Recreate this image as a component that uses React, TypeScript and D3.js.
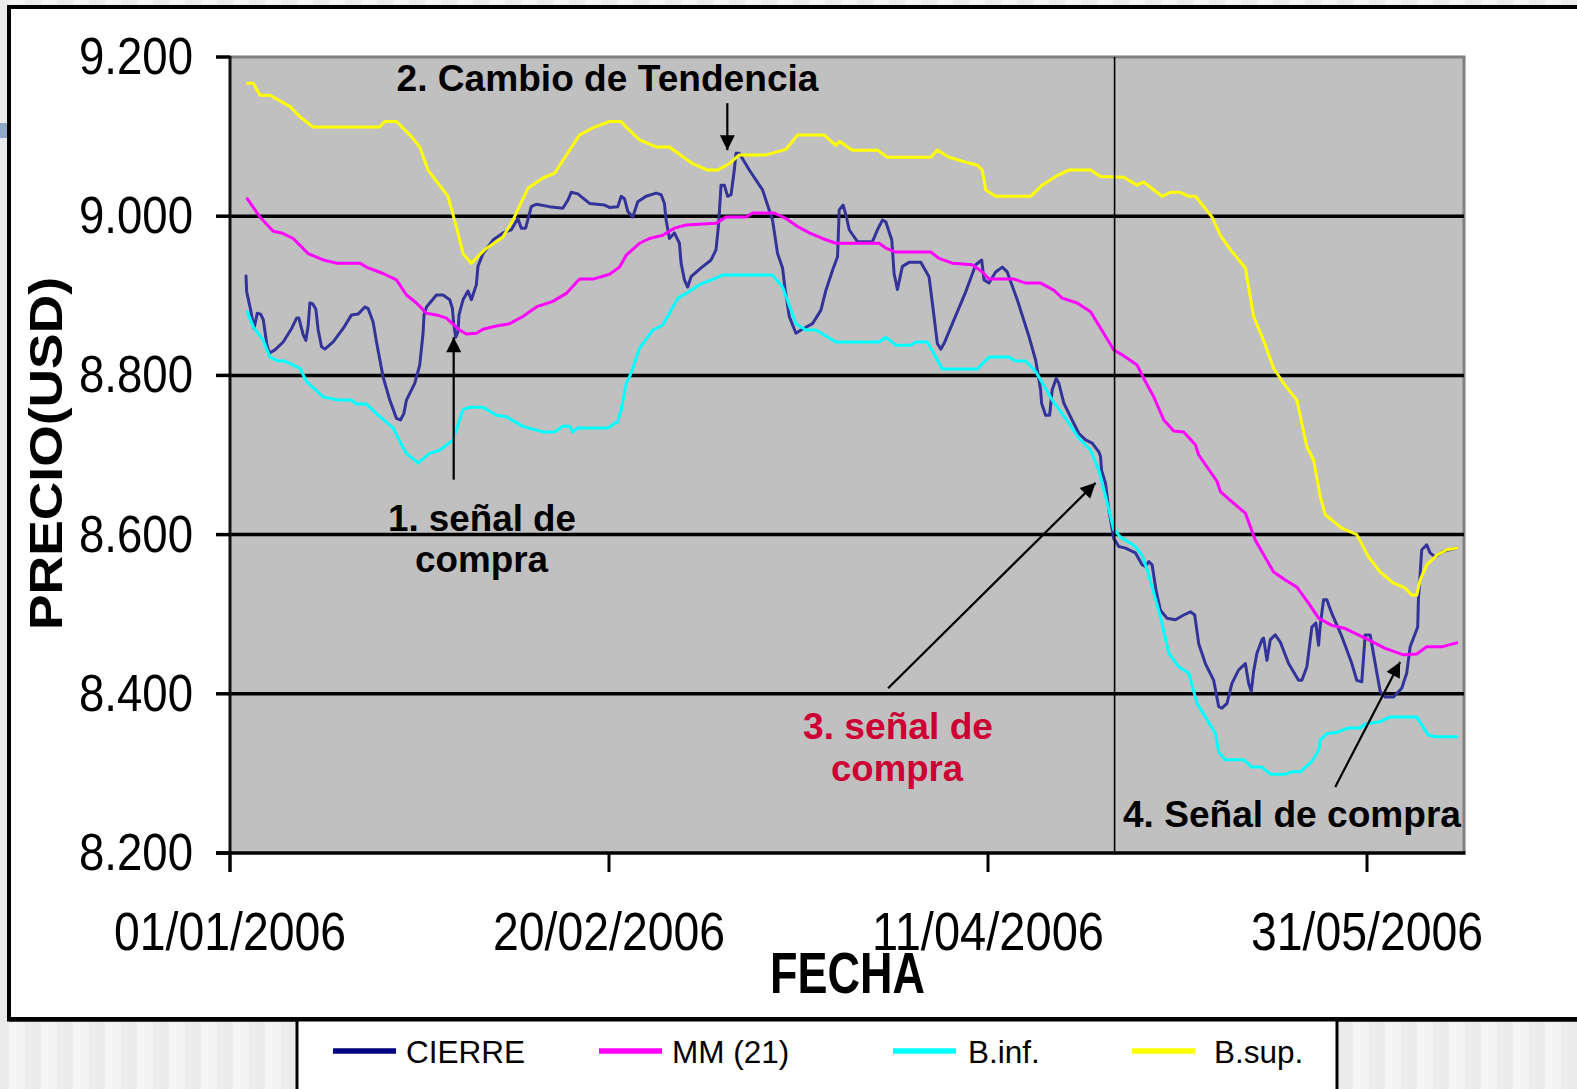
import React from "react";
import * as d3 from "d3";

// ---------- DATA (x = days after 01/01/2006, y = price USD) ----------
const X_TICKS = ["2006-01-01", "2006-02-20", "2006-04-11", "2006-05-31"];
const Y_TICKS = [8.2, 8.4, 8.6, 8.8, 9.0, 9.2];
const GRID_VALUES = [8.4, 8.6, 8.8, 9.0];
const SERIES_NAMES = ["CIERRE", "MM (21)", "B.inf.", "B.sup."];

const CIERRE: [number, number][] = [
  [2.11, 8.925], [2.2, 8.905], [2.73, 8.882], [3.16, 8.859], [3.6, 8.878], [4.04, 8.877], [4.39, 8.87], [4.84, 8.84],
  [5.18, 8.828], [5.93, 8.832], [7.02, 8.842], [8.13, 8.859], [8.79, 8.872], [9.09, 8.872], [9.66, 8.851], [10.01, 8.844],
  [10.32, 8.863], [10.54, 8.891], [10.9, 8.89], [11.33, 8.883], [11.63, 8.857], [12.08, 8.836], [12.52, 8.833], [13.61, 8.842],
  [14.93, 8.859], [16.03, 8.876], [16.9, 8.877], [17.79, 8.886], [18.22, 8.884], [18.88, 8.867], [19.33, 8.842], [20.2, 8.798],
  [21.08, 8.769], [21.96, 8.746], [22.49, 8.744], [22.93, 8.752], [23.28, 8.769], [24.37, 8.79], [25.03, 8.813], [25.47, 8.853],
  [25.6, 8.876], [25.92, 8.886], [27.23, 8.901], [28.11, 8.901], [28.99, 8.895], [29.34, 8.884], [29.51, 8.865], [29.78, 8.848],
  [30.08, 8.855], [30.21, 8.876], [30.74, 8.895], [31.4, 8.906], [31.84, 8.895], [32.5, 8.914], [32.71, 8.937], [33.37, 8.953],
  [34.69, 8.97], [36.01, 8.979], [37.11, 8.983], [37.98, 8.997], [38.43, 8.985], [39.0, 8.985], [39.75, 9.012], [40.41, 9.015],
  [42.16, 9.012], [43.91, 9.01], [44.57, 9.02], [45.02, 9.03], [45.89, 9.028], [47.43, 9.016], [49.41, 9.014], [50.07, 9.011],
  [51.16, 9.012], [51.61, 9.025], [52.04, 9.022], [52.48, 9.006], [53.14, 8.999], [53.79, 9.018], [54.9, 9.025], [56.22, 9.029],
  [56.88, 9.027], [57.31, 9.016], [57.54, 8.995], [57.97, 8.972], [58.63, 8.979], [59.29, 8.966], [59.51, 8.941], [59.95, 8.92],
  [60.38, 8.911], [60.83, 8.924], [62.15, 8.935], [63.47, 8.945], [64.12, 8.958], [64.47, 8.991], [64.78, 9.039], [65.22, 9.039],
  [65.65, 9.025], [66.1, 9.027], [66.53, 9.058], [66.76, 9.079], [67.19, 9.079], [68.51, 9.058], [70.26, 9.033], [71.58, 8.995],
  [72.24, 8.953], [72.9, 8.935], [73.25, 8.907], [73.78, 8.874], [74.66, 8.853], [75.32, 8.857], [76.85, 8.865], [77.96, 8.882],
  [78.62, 8.907], [79.49, 8.932], [80.15, 8.949], [80.37, 9.008], [80.89, 9.014], [81.33, 8.999], [81.69, 8.983], [82.78, 8.968],
  [84.76, 8.968], [85.42, 8.983], [86.07, 8.995], [86.52, 8.993], [86.86, 8.983], [87.31, 8.97], [87.61, 8.928], [88.05, 8.908],
  [88.71, 8.937], [89.59, 8.942], [91.13, 8.942], [92.22, 8.924], [92.66, 8.891], [93.32, 8.84], [93.77, 8.833], [94.2, 8.84],
  [95.3, 8.865], [97.06, 8.905], [98.38, 8.939], [99.17, 8.945], [99.47, 8.92], [100.13, 8.916], [101.01, 8.93], [101.88, 8.936],
  [102.54, 8.93], [103.86, 8.895], [105.4, 8.849], [106.29, 8.819], [106.94, 8.782], [107.07, 8.765], [107.6, 8.75], [108.13, 8.75],
  [108.47, 8.782], [109.0, 8.796], [109.35, 8.79], [110.01, 8.765], [110.89, 8.748], [111.99, 8.727], [112.87, 8.719], [113.74, 8.715],
  [114.62, 8.704], [114.85, 8.698], [114.98, 8.681], [115.51, 8.664], [115.94, 8.631], [116.6, 8.595], [117.26, 8.585], [118.14, 8.583],
  [119.46, 8.577], [120.33, 8.562], [120.77, 8.56], [121.21, 8.566], [121.65, 8.562], [122.17, 8.53], [122.75, 8.505], [123.62, 8.495],
  [124.73, 8.493], [125.82, 8.499], [126.7, 8.503], [127.27, 8.499], [127.8, 8.463], [128.68, 8.438], [129.77, 8.417], [130.43, 8.384],
  [130.87, 8.382], [131.53, 8.388], [132.18, 8.413], [133.07, 8.43], [133.95, 8.438], [134.39, 8.413], [134.74, 8.403], [135.04, 8.428],
  [135.48, 8.451], [136.14, 8.468], [136.36, 8.47], [136.8, 8.442], [137.24, 8.468], [137.9, 8.474], [138.56, 8.465], [139.66, 8.438],
  [140.97, 8.417], [141.41, 8.417], [142.07, 8.434], [142.73, 8.484], [143.25, 8.489], [143.61, 8.461], [143.83, 8.486], [144.27, 8.518],
  [144.7, 8.518], [145.36, 8.501], [146.68, 8.472], [148.0, 8.438], [148.65, 8.417], [149.31, 8.415], [149.76, 8.474], [150.42, 8.474],
  [151.08, 8.438], [151.74, 8.403], [152.39, 8.396], [153.49, 8.396], [154.58, 8.407], [155.24, 8.426], [155.69, 8.459], [156.69, 8.484],
  [156.78, 8.518], [157.22, 8.581], [157.88, 8.587], [158.32, 8.577], [158.98, 8.572], [160.08, 8.579], [161.83, 8.583],
];

const MM21: [number, number][] = [
  [2.28, 9.022], [3.95, 8.999], [5.7, 8.981], [6.81, 8.979], [8.34, 8.972], [10.32, 8.953], [12.29, 8.945], [14.06, 8.941],
  [17.13, 8.941], [18.22, 8.935], [20.2, 8.928], [21.96, 8.92], [23.28, 8.901], [24.6, 8.891], [25.92, 8.878], [27.23, 8.876],
  [28.55, 8.872], [30.3, 8.857], [31.19, 8.852], [32.5, 8.853], [33.37, 8.858], [35.14, 8.862], [36.89, 8.865], [38.64, 8.874],
  [40.41, 8.886], [42.6, 8.893], [44.36, 8.903], [46.11, 8.921], [47.87, 8.921], [50.07, 8.927], [51.38, 8.936], [52.27, 8.951],
  [54.02, 8.966], [55.34, 8.972], [57.09, 8.976], [58.63, 8.985], [60.17, 8.989], [64.12, 8.991], [65.44, 8.999], [68.08, 8.999],
  [68.94, 9.004], [71.8, 9.004], [73.35, 8.997], [74.87, 8.987], [76.42, 8.979], [78.17, 8.972], [79.93, 8.966], [85.64, 8.966],
  [86.52, 8.96], [87.84, 8.955], [92.45, 8.955], [93.54, 8.947], [95.3, 8.941], [97.93, 8.939], [99.25, 8.93], [100.13, 8.921],
  [103.43, 8.921], [104.97, 8.916], [106.94, 8.916], [108.7, 8.907], [109.79, 8.897], [111.77, 8.891], [113.53, 8.88], [114.62, 8.863],
  [116.6, 8.832], [117.69, 8.826], [119.67, 8.813], [120.78, 8.792], [121.87, 8.773], [123.19, 8.744], [124.51, 8.73], [125.82, 8.729],
  [127.36, 8.713], [127.8, 8.7], [130.21, 8.667], [130.66, 8.654], [132.19, 8.641], [133.95, 8.627], [135.27, 8.593], [137.68, 8.553],
  [139.22, 8.543], [140.75, 8.534], [142.29, 8.514], [143.61, 8.495], [145.36, 8.486], [147.13, 8.482], [149.76, 8.47], [152.4, 8.457],
  [154.81, 8.449], [156.56, 8.45], [157.88, 8.459], [159.86, 8.459], [161.83, 8.464],
];

const BINF: [number, number][] = [
  [2.28, 8.88], [3.07, 8.861], [4.39, 8.844], [5.27, 8.823], [6.36, 8.818], [7.25, 8.818], [9.22, 8.809], [10.11, 8.792],
  [12.29, 8.773], [14.27, 8.769], [16.03, 8.769], [16.69, 8.764], [18.01, 8.764], [19.54, 8.75], [21.52, 8.734], [22.79, 8.71],
  [23.28, 8.702], [24.81, 8.69], [26.35, 8.702], [27.67, 8.706], [29.42, 8.719], [30.74, 8.757], [31.62, 8.76], [33.37, 8.76],
  [35.14, 8.75], [36.46, 8.748], [38.64, 8.736], [41.28, 8.729], [42.82, 8.729], [43.91, 8.736], [44.8, 8.736], [45.23, 8.729],
  [45.89, 8.734], [49.84, 8.734], [51.16, 8.742], [51.61, 8.757], [52.27, 8.79], [52.93, 8.803], [54.02, 8.834], [55.77, 8.857],
  [57.09, 8.863], [59.07, 8.897], [60.17, 8.903], [61.92, 8.914], [63.02, 8.918], [64.99, 8.926], [71.58, 8.926], [72.9, 8.911],
  [74.66, 8.865], [75.98, 8.857], [77.3, 8.857], [79.93, 8.842], [85.64, 8.842], [86.52, 8.848], [87.84, 8.838], [89.82, 8.838],
  [90.48, 8.842], [92.0, 8.842], [93.98, 8.808], [98.59, 8.808], [100.13, 8.823], [102.77, 8.823], [103.65, 8.818], [104.97, 8.818],
  [106.29, 8.805], [108.47, 8.769], [110.24, 8.746], [111.99, 8.721], [113.53, 8.706], [114.62, 8.681], [115.51, 8.648], [116.6, 8.606],
  [117.48, 8.597], [119.46, 8.585], [120.33, 8.574], [120.99, 8.556], [122.75, 8.497], [123.85, 8.451], [125.16, 8.434], [126.48, 8.426],
  [127.58, 8.388], [128.68, 8.371], [130.0, 8.35], [130.43, 8.327], [131.32, 8.317], [133.73, 8.317], [134.82, 8.308], [136.14, 8.308],
  [137.25, 8.299], [139.22, 8.299], [140.09, 8.302], [141.2, 8.302], [142.73, 8.315], [143.61, 8.329], [143.83, 8.342], [144.7, 8.35],
  [145.8, 8.351], [147.56, 8.357], [149.1, 8.357], [149.76, 8.362], [151.74, 8.365], [153.06, 8.371], [156.56, 8.371], [157.22, 8.361],
  [158.1, 8.348], [159.2, 8.346], [161.83, 8.346],
];

const BSUP: [number, number][] = [
  [2.28, 9.167], [3.07, 9.167], [3.95, 9.152], [5.27, 9.152], [7.9, 9.138], [9.22, 9.125], [10.97, 9.112], [19.76, 9.112],
  [20.42, 9.119], [21.96, 9.119], [23.94, 9.1], [25.03, 9.087], [26.13, 9.058], [28.76, 9.025], [30.08, 8.979], [30.74, 8.953],
  [31.84, 8.941], [33.6, 8.958], [36.01, 8.974], [37.33, 8.995], [39.3, 9.035], [41.28, 9.048], [42.82, 9.054], [46.11, 9.102],
  [48.09, 9.112], [50.07, 9.119], [51.61, 9.119], [52.27, 9.112], [54.02, 9.096], [56.22, 9.087], [57.97, 9.087], [61.04, 9.066],
  [63.02, 9.058], [64.33, 9.058], [65.88, 9.066], [67.19, 9.077], [70.71, 9.077], [73.35, 9.084], [74.87, 9.102], [78.39, 9.102],
  [79.93, 9.089], [80.37, 9.094], [82.12, 9.083], [85.42, 9.083], [86.73, 9.074], [92.45, 9.074], [93.32, 9.083], [94.86, 9.074],
  [97.06, 9.068], [98.59, 9.064], [99.25, 9.058], [99.7, 9.033], [101.01, 9.025], [105.63, 9.025], [107.15, 9.039], [108.92, 9.05],
  [110.67, 9.058], [113.53, 9.058], [114.85, 9.05], [117.92, 9.049], [119.67, 9.039], [120.55, 9.043], [122.96, 9.025], [124.07, 9.03],
  [125.39, 9.03], [126.48, 9.025], [127.36, 9.025], [129.55, 8.999], [130.66, 8.976], [131.98, 8.958], [133.95, 8.935], [135.05, 8.874],
  [136.36, 8.844], [137.68, 8.809], [139.0, 8.79], [140.75, 8.769], [142.07, 8.71], [142.95, 8.694], [143.83, 8.648], [144.49, 8.625],
  [146.68, 8.608], [148.66, 8.6], [150.2, 8.572], [151.74, 8.553], [153.49, 8.539], [155.03, 8.533], [155.9, 8.524], [156.56, 8.524],
  [157.01, 8.543], [157.88, 8.562], [159.2, 8.574], [160.51, 8.581], [161.83, 8.583],
];

const VLINE_DAY = 116.7;
// annotation arrows: [day, price] tail -> head
const ARROWS: { from: [number, number]; to: [number, number] }[] = [
  { from: [29.51, 8.669], to: [29.51, 8.848] },
  { from: [65.61, 9.142], to: [65.61, 9.083] },
  { from: [86.82, 8.407], to: [114.19, 8.665] },
  { from: [145.81, 8.283], to: [154.37, 8.44] },
];

// ---------- LAYOUT ----------
const W = 1577;
const H = 1089;
const PLOT = { left: 230, top: 57, right: 1464, bottom: 853 };
const FONT = "'Liberation Sans', Arial, Helvetica, sans-serif";
const LINE_COLORS = ["#333399", "#FF00FF", "#00FFFF", "#FFFF00"];
const LEGEND_COLORS = ["#000080", "#FF00FF", "#00FFFF", "#FFFF00"];
const LEGEND_LINE_X = [333, 599, 893, 1132];
const LEGEND_TEXT_X = [406, 672, 968, 1214];

const T0 = Date.UTC(2006, 0, 1);
const dayDate = (d: number) => new Date(T0 + d * 86400000);
const parse = d3.utcParse("%Y-%m-%d");
const fmtDate = d3.utcFormat("%d/%m/%Y");
const fmtY = d3.format(".3f");

export default function App() {
  const x = d3
    .scaleUtc()
    .domain([parse(X_TICKS[0]) as Date, parse(X_TICKS[3]) as Date])
    .range([PLOT.left, 1367]);
  const y = d3.scaleLinear().domain([8.2, 9.2]).range([PLOT.bottom, PLOT.top]);
  const line = d3
    .line<[number, number]>()
    .x((p) => x(dayDate(p[0])))
    .y((p) => y(p[1]));

  const series = [CIERRE, MM21, BINF, BSUP];

  const stripes = d3.range(-23, W, 16).map((sx) => {
    const k = Math.abs(Math.round((sx - 9) / 16));
    return { sx, dark: k % 2 === 1 };
  });

  const vx = x(dayDate(VLINE_DAY));

  return (
    <svg
      width={W}
      height={H}
      style={{ position: "absolute", left: 0, top: 0, display: "block" }}
      fontFamily={FONT}
    >
      <defs>
        <marker
          id="ah"
          viewBox="0 0 10 10"
          refX={10}
          refY={5}
          markerUnits="userSpaceOnUse"
          markerWidth={17}
          markerHeight={15}
          orient="auto"
        >
          <path d="M0,0 L10,5 L0,10 z" fill="#000" />
        </marker>
      </defs>

      {/* page background stripes */}
      {stripes.map((s, i) => (
        <rect key={i} x={s.sx} y={0} width={16} height={H} fill={s.dark ? "#EBEBEB" : "#F4F4F4"} />
      ))}
      <rect x={0} y={123} width={12} height={15} fill="#8FA8C8" />

      {/* chart box */}
      <rect x={9} y={7} width={1600} height={1012.5} fill="#FFFFFF" stroke="#000" strokeWidth={4} />

      {/* plot area */}
      <rect
        x={PLOT.left}
        y={PLOT.top}
        width={PLOT.right - PLOT.left}
        height={PLOT.bottom - PLOT.top}
        fill="#C0C0C0"
      />
      <line x1={PLOT.left} x2={PLOT.right + 1.5} y1={PLOT.top} y2={PLOT.top} stroke="#808080" strokeWidth={3} />
      <line x1={PLOT.right} x2={PLOT.right} y1={PLOT.top} y2={PLOT.bottom} stroke="#808080" strokeWidth={3} />

      {GRID_VALUES.map((v) => (
        <line key={v} x1={PLOT.left} x2={PLOT.right} y1={y(v)} y2={y(v)} stroke="#000" strokeWidth={3.5} />
      ))}

      {/* series */}
      {series.map((s, i) => (
        <path
          key={SERIES_NAMES[i]}
          d={line(s) || ""}
          fill="none"
          stroke={LINE_COLORS[i]}
          strokeWidth={3}
          strokeLinejoin="round"
          strokeLinecap="round"
        />
      ))}

      {/* vertical marker line */}
      <line x1={vx} x2={vx} y1={PLOT.top} y2={PLOT.bottom} stroke="#000" strokeWidth={1.6} />

      {/* axes */}
      <line x1={PLOT.left} x2={PLOT.left} y1={PLOT.top - 1} y2={PLOT.bottom + 19} stroke="#111" strokeWidth={3} />
      <line x1={PLOT.left - 14} x2={PLOT.right + 1.5} y1={PLOT.bottom} y2={PLOT.bottom} stroke="#000" strokeWidth={3.5} />
      {Y_TICKS.map((v) => (
        <g key={v}>
          <line x1={PLOT.left - 14} x2={PLOT.left} y1={y(v)} y2={y(v)} stroke="#000" strokeWidth={3.5} />
          <text x={193} y={y(v) + 17} textAnchor="end" fontSize={52} textLength={114} lengthAdjust="spacingAndGlyphs" fill="#000">
            {fmtY(v)}
          </text>
        </g>
      ))}
      {X_TICKS.map((t) => {
        const d = parse(t) as Date;
        const tx = x(d);
        return (
          <g key={t}>
            <line x1={tx} x2={tx} y1={PLOT.bottom} y2={PLOT.bottom + 19} stroke="#000" strokeWidth={3} />
            <text x={tx - 116} y={950} fontSize={53} textLength={232} lengthAdjust="spacingAndGlyphs" fill="#000">
              {fmtDate(d)}
            </text>
          </g>
        );
      })}

      {/* axis titles */}
      <text x={770} y={993} fontSize={57} fontWeight="bold" textLength={155} lengthAdjust="spacingAndGlyphs" fill="#000">
        FECHA
      </text>
      <text
        transform="translate(62,453.5) rotate(-90)"
        textAnchor="middle"
        fontSize={46}
        fontWeight="bold"
        textLength={353}
        lengthAdjust="spacingAndGlyphs"
        fill="#000"
      >
        PRECIO(USD)
      </text>

      {/* annotations */}
      {ARROWS.map((a, i) => (
        <line
          key={i}
          x1={x(dayDate(a.from[0]))}
          y1={y(a.from[1])}
          x2={x(dayDate(a.to[0]))}
          y2={y(a.to[1])}
          stroke="#000"
          strokeWidth={2.2}
          markerEnd="url(#ah)"
        />
      ))}
      <g fontWeight="bold" fontSize={36} fill="#000">
        <text x={396.5} y={90.5} textLength={422} lengthAdjust="spacingAndGlyphs">2. Cambio de Tendencia</text>
        <text x={482} y={531} textAnchor="middle" textLength={188} lengthAdjust="spacingAndGlyphs">1. señal de</text>
        <text x={481.5} y={572} textAnchor="middle" textLength={133} lengthAdjust="spacingAndGlyphs">compra</text>
        <text x={898} y={739} textAnchor="middle" textLength={190} lengthAdjust="spacingAndGlyphs" fill="#CC0033">3. señal de</text>
        <text x={897} y={781} textAnchor="middle" textLength={132} lengthAdjust="spacingAndGlyphs" fill="#CC0033">compra</text>
        <text x={1123} y={826.5} textLength={338} lengthAdjust="spacingAndGlyphs">4. Señal de compra</text>
      </g>

      {/* legend */}
      <rect x={297} y={1019} width={1040} height={120} fill="#FFFFFF" stroke="#000" strokeWidth={3} />
      <line x1={9} x2={W} y1={1019.3} y2={1019.3} stroke="#000" strokeWidth={4.5} />
      {SERIES_NAMES.map((n, i) => (
        <g key={n}>
          <line x1={LEGEND_LINE_X[i]} x2={LEGEND_LINE_X[i] + 63} y1={1051} y2={1051} stroke={LEGEND_COLORS[i]} strokeWidth={5.5} />
          <text x={LEGEND_TEXT_X[i]} y={1063} fontSize={31.5} fill="#000">
            {n}
          </text>
        </g>
      ))}
    </svg>
  );
}
